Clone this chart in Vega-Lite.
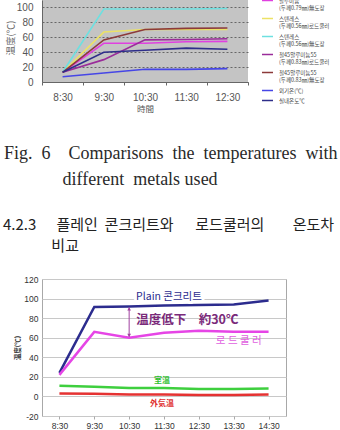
{
  "$schema": "https://vega.github.io/schema/vega-lite/v6.json",
  "autosize": {"type": "none"},
  "padding": {"left": 42, "top": 0, "right": 298, "bottom": 430},
  "background": "white",
  "config": {"font": "Liberation Sans"},
  "bounds": "flush",
  "spacing": 197,
  "resolve": {"scale": {"x": "independent", "y": "independent", "color": "independent"}, "legend": {"color": "independent"}},
  "vconcat": [
    {
      "width": 206,
      "height": 82,
      "view": {"fill": "#c4c4c4", "stroke": null},
      "title": {
        "text": ["Fig.\u00a0\u00a06\u00a0\u00a0\u00a0\u00a0Comparisons\u00a0\u00a0the\u00a0\u00a0temperatures\u00a0\u00a0with", "\u200b\u00a0\u00a0\u00a0\u00a0\u00a0\u00a0\u00a0\u00a0\u00a0\u00a0\u00a0\u00a0\u00a0different\u00a0\u00a0metals\u00a0used"],
        "orient": "bottom", "anchor": "start", "frame": "group", "dx": -38, "offset": 32,
        "font": "Liberation Serif", "fontSize": 18, "fontWeight": "normal", "color": "#2a2a2a", "lineHeight": 26
      },
      "data": {"values": [
        {"s": "알루미늄|(두께0.79㎜)無도장", "time": "8:30", "temp": 13},
        {"s": "알루미늄|(두께0.79㎜)無도장", "time": "9:30", "temp": 52},
        {"s": "알루미늄|(두께0.79㎜)無도장", "time": "10:30", "temp": 52},
        {"s": "알루미늄|(두께0.79㎜)無도장", "time": "11:30", "temp": 54},
        {"s": "알루미늄|(두께0.79㎜)無도장", "time": "12:30", "temp": 54.5},
        {"s": "스텐레스|(두께0.56㎜)로드쿨러", "time": "8:30", "temp": 13},
        {"s": "스텐레스|(두께0.56㎜)로드쿨러", "time": "9:30", "temp": 67},
        {"s": "스텐레스|(두께0.56㎜)로드쿨러", "time": "10:30", "temp": 70.5},
        {"s": "스텐레스|(두께0.56㎜)로드쿨러", "time": "11:30", "temp": 70.5},
        {"s": "스텐레스|(두께0.56㎜)로드쿨러", "time": "12:30", "temp": 70.5},
        {"s": "스텐레스|(두께0.56㎜)無도장", "time": "8:30", "temp": 13},
        {"s": "스텐레스|(두께0.56㎜)無도장", "time": "9:30", "temp": 98},
        {"s": "스텐레스|(두께0.56㎜)無도장", "time": "10:30", "temp": 98},
        {"s": "스텐레스|(두께0.56㎜)無도장", "time": "11:30", "temp": 98},
        {"s": "스텐레스|(두께0.56㎜)無도장", "time": "12:30", "temp": 98.5},
        {"s": "철45알루미늄55|(두께0.83㎜)로드쿨러", "time": "8:30", "temp": 13},
        {"s": "철45알루미늄55|(두께0.83㎜)로드쿨러", "time": "9:30", "temp": 30},
        {"s": "철45알루미늄55|(두께0.83㎜)로드쿨러", "time": "10:30", "temp": 56.5},
        {"s": "철45알루미늄55|(두께0.83㎜)로드쿨러", "time": "11:30", "temp": 57},
        {"s": "철45알루미늄55|(두께0.83㎜)로드쿨러", "time": "12:30", "temp": 58},
        {"s": "철45알루미늄55|(두께0.83㎜)無도장", "time": "8:30", "temp": 13},
        {"s": "철45알루미늄55|(두께0.83㎜)無도장", "time": "9:30", "temp": 56.5},
        {"s": "철45알루미늄55|(두께0.83㎜)無도장", "time": "10:30", "temp": 70.5},
        {"s": "철45알루미늄55|(두께0.83㎜)無도장", "time": "11:30", "temp": 72},
        {"s": "철45알루미늄55|(두께0.83㎜)無도장", "time": "12:30", "temp": 72.5},
        {"s": "외기온(℃)", "time": "8:30", "temp": 7},
        {"s": "외기온(℃)", "time": "9:30", "temp": 12},
        {"s": "외기온(℃)", "time": "10:30", "temp": 17},
        {"s": "외기온(℃)", "time": "11:30", "temp": 17},
        {"s": "외기온(℃)", "time": "12:30", "temp": 18},
        {"s": "실내온도℃", "time": "8:30", "temp": 13},
        {"s": "실내온도℃", "time": "9:30", "temp": 40},
        {"s": "실내온도℃", "time": "10:30", "temp": 42.5},
        {"s": "실내온도℃", "time": "11:30", "temp": 45.5},
        {"s": "실내온도℃", "time": "12:30", "temp": 44}
      ]},
      "mark": {"type": "line", "strokeWidth": 1.6},
      "encoding": {
        "x": {
          "field": "time", "type": "ordinal", "bandPosition": 0.5,
          "scale": {"type": "band", "domain": ["8:30", "9:30", "10:30", "11:30", "12:30"], "paddingInner": 0, "paddingOuter": 0},
          "axis": {
            "title": "時間", "titleFont": "Noto Sans CJK JP", "titleFontSize": 8.5, "titleFontWeight": "normal", "titleColor": "#555", "titlePadding": 2,
            "labelFontSize": 10, "labelColor": "#555", "labelPadding": 7, "labelAngle": 0,
            "domainColor": "#666", "tickBand": "extent", "tickColor": "#666", "tickSize": 3, "grid": false
          }
        },
        "y": {
          "field": "temp", "type": "quantitative",
          "scale": {"domain": [0, 110], "nice": false},
          "axis": {
            "values": [0, 20, 40, 60, 80, 100], "tickCount": 6,
            "title": "温度(℃)", "titleFont": "Noto Sans CJK JP", "titleFontSize": 9.5, "titleFontWeight": "normal", "titleColor": "#666",
            "titleX": -32, "titleY": 37.5, "titleAlign": "center", "titleBaseline": "middle",
            "labelFontSize": 10, "labelColor": "#555", "labelPadding": 9, "ticks": false,
            "domainColor": "#666", "gridColor": "#666", "gridDash": [2, 2], "gridWidth": 1
          }
        },
        "color": {
          "field": "s", "type": "nominal",
          "scale": {
            "domain": ["알루미늄|(두께0.79㎜)無도장", "스텐레스|(두께0.56㎜)로드쿨러", "스텐레스|(두께0.56㎜)無도장", "철45알루미늄55|(두께0.83㎜)로드쿨러", "철45알루미늄55|(두께0.83㎜)無도장", "외기온(℃)", "실내온도℃"],
            "range": ["#e040e0", "#ece266", "#6ee0e0", "#9a2c9a", "#8c3a3a", "#4646e6", "#2e2e8a"]
          },
          "legend": {
            "orient": "none", "legendX": 219, "legendY": -6, "title": null, "padding": 0,
            "symbolType": "stroke", "symbolSize": 121, "symbolStrokeWidth": 1.5,
            "labelFont": "Noto Sans CJK KR", "labelFontSize": 5.5, "labelColor": "#444", "labelOffset": 5, "labelLimit": 200,
            "labelExpr": "split(datum.label, '|')", "rowPadding": 0
          }
        },
        "order": {"value": null}
      }
    },
    {
      "width": 244,
      "height": 137,
      "view": {"stroke": "#a8a8a8"},
      "title": {
        "text": ["4.2.3\u00a0\u00a0\u00a0\u00a0\u00a0\u00a0플레인\u00a0\u00a0콘크리트와\u3000\u00a0\u00a0로드쿨러의\u3000\u00a0\u00a0\u00a0\u00a0온도차", "\u200b\u3000\u3000\u3000\u00a0비교"],
        "orient": "top", "anchor": "start", "frame": "group", "dx": -39, "offset": 21.5,
        "font": "Noto Sans CJK KR", "fontSize": 15, "fontWeight": "normal", "color": "#222", "lineHeight": 21
      },
      "layer": [
        {
          "data": {"values": [
            {"line": "Plain", "time": "8:30", "temp": 24},
            {"line": "Plain", "time": "9:30", "temp": 91.5},
            {"line": "Plain", "time": "10:30", "temp": 92},
            {"line": "Plain", "time": "11:30", "temp": 93},
            {"line": "Plain", "time": "12:30", "temp": 93.5},
            {"line": "Plain", "time": "13:30", "temp": 94},
            {"line": "Plain", "time": "14:30", "temp": 98},
            {"line": "Road", "time": "8:30", "temp": 22},
            {"line": "Road", "time": "9:30", "temp": 66},
            {"line": "Road", "time": "10:30", "temp": 60},
            {"line": "Road", "time": "11:30", "temp": 65},
            {"line": "Road", "time": "12:30", "temp": 67},
            {"line": "Road", "time": "13:30", "temp": 66},
            {"line": "Road", "time": "14:30", "temp": 66},
            {"line": "Room", "time": "8:30", "temp": 11},
            {"line": "Room", "time": "9:30", "temp": 10},
            {"line": "Room", "time": "10:30", "temp": 8.5},
            {"line": "Room", "time": "11:30", "temp": 8.5},
            {"line": "Room", "time": "12:30", "temp": 7.5},
            {"line": "Room", "time": "13:30", "temp": 7.5},
            {"line": "Room", "time": "14:30", "temp": 8},
            {"line": "Outside", "time": "8:30", "temp": 3},
            {"line": "Outside", "time": "9:30", "temp": 2.7},
            {"line": "Outside", "time": "10:30", "temp": 2},
            {"line": "Outside", "time": "11:30", "temp": 2},
            {"line": "Outside", "time": "12:30", "temp": 1.5},
            {"line": "Outside", "time": "13:30", "temp": 1.5},
            {"line": "Outside", "time": "14:30", "temp": 2}
          ]},
          "mark": {"type": "line", "strokeWidth": 2.5},
          "encoding": {
            "x": {
              "field": "time", "type": "ordinal",
              "scale": {"type": "point", "domain": ["8:30", "9:30", "10:30", "11:30", "12:30", "13:30", "14:30"], "padding": 0.5},
              "axis": {"title": null, "labelFontSize": 8.5, "labelColor": "#333", "labelPadding": 2, "labelAngle": 0, "domain": false, "tickColor": "#aaa", "tickSize": 3, "grid": false}
            },
            "y": {
              "field": "temp", "type": "quantitative",
              "scale": {"domain": [-20, 120], "nice": false},
              "axis": {
                "values": [-20, 0, 20, 40, 60, 80, 100, 120], "tickCount": 8, "labelOverlap": false, "labelExpr": "replace(datum.label, '−', '-')",
                "title": "温度(℃)", "titleFont": "Noto Sans CJK JP", "titleFontSize": 6.5, "titleFontWeight": "bold", "titleColor": "#333",
                "titleX": -24.5, "titleY": 68.5, "titleAlign": "center", "titleBaseline": "middle",
                "labelFontSize": 8.5, "labelColor": "#333", "labelPadding": 4, "ticks": false, "domain": false,
                "gridColor": "#c8c8c8", "gridWidth": 1
              }
            },
            "color": {
              "field": "line", "type": "nominal",
              "scale": {"domain": ["Plain", "Road", "Room", "Outside"], "range": ["#2c2c8e", "#e645e6", "#3ecf3e", "#e53232"]},
              "legend": null
            },
            "order": {"value": null}
          }
        },
        {
          "data": {"values": [{"time": "10:30", "temp": 91, "temp2": 61}]},
          "mark": {"type": "rule", "color": "#a040a0", "strokeWidth": 1},
          "encoding": {
            "x": {"field": "time", "type": "ordinal"},
            "y": {"field": "temp", "type": "quantitative"},
            "y2": {"field": "temp2"}
          }
        },
        {
          "data": {"values": [{"time": "10:30", "temp": 89.5, "dir": "up"}, {"time": "10:30", "temp": 62.5, "dir": "down"}]},
          "mark": {"type": "point", "filled": true, "size": 14, "color": "#a040a0", "opacity": 1},
          "encoding": {
            "x": {"field": "time", "type": "ordinal"},
            "y": {"field": "temp", "type": "quantitative"},
            "shape": {"field": "dir", "type": "nominal", "scale": {"domain": ["up", "down"], "range": ["triangle-up", "triangle-down"]}, "legend": null}
          }
        },
        {
          "data": {"values": [{"time": "11:30", "temp": 102, "label": "Plain 콘크리트"}]},
          "mark": {"type": "text", "font": "Noto Sans CJK KR", "fontSize": 10.5, "dx": 5, "fill": "white", "stroke": "white", "strokeWidth": 6, "strokeJoin": "round"},
          "encoding": {
            "x": {"field": "time", "type": "ordinal"},
            "y": {"field": "temp", "type": "quantitative"},
            "text": {"field": "label"}
          }
        },
        {
          "data": {"values": [{"time": "11:30", "temp": 102, "label": "Plain 콘크리트"}]},
          "mark": {"type": "text", "font": "Noto Sans CJK KR", "fontSize": 10.5, "dx": 5, "color": "#2c2c8e"},
          "encoding": {
            "x": {"field": "time", "type": "ordinal"},
            "y": {"field": "temp", "type": "quantitative"},
            "text": {"field": "label"}
          }
        },
        {
          "data": {"values": [{"time": "10:30", "temp": 78, "label": "温度低下\u3000約30℃"}]},
          "mark": {"type": "text", "font": "Noto Sans CJK JP", "fontSize": 12.5, "fontWeight": "bold", "align": "left", "dx": 7, "color": "#7a2a7a"},
          "encoding": {
            "x": {"field": "time", "type": "ordinal"},
            "y": {"field": "temp", "type": "quantitative"},
            "text": {"field": "label"}
          }
        },
        {
          "data": {"values": [{"time": "13:30", "temp": 57, "label": "로 드 쿨 러"}]},
          "mark": {"type": "text", "font": "Noto Sans CJK KR", "fontSize": 10.5, "dx": 5, "color": "#e060e0"},
          "encoding": {
            "x": {"field": "time", "type": "ordinal"},
            "y": {"field": "temp", "type": "quantitative"},
            "text": {"field": "label"}
          }
        },
        {
          "data": {"values": [{"time": "11:30", "temp": 15.3, "label": "室温"}]},
          "mark": {"type": "text", "font": "Noto Sans CJK JP", "fontSize": 8, "fontWeight": "bold", "dx": -2, "color": "#30c030"},
          "encoding": {
            "x": {"field": "time", "type": "ordinal"},
            "y": {"field": "temp", "type": "quantitative"},
            "text": {"field": "label"}
          }
        },
        {
          "data": {"values": [{"time": "11:30", "temp": -7.4, "label": "外気温"}]},
          "mark": {"type": "text", "font": "Noto Sans CJK JP", "fontSize": 8, "fontWeight": "bold", "dx": -2, "color": "#e03030"},
          "encoding": {
            "x": {"field": "time", "type": "ordinal"},
            "y": {"field": "temp", "type": "quantitative"},
            "text": {"field": "label"}
          }
        }
      ]
    }
  ]
}
